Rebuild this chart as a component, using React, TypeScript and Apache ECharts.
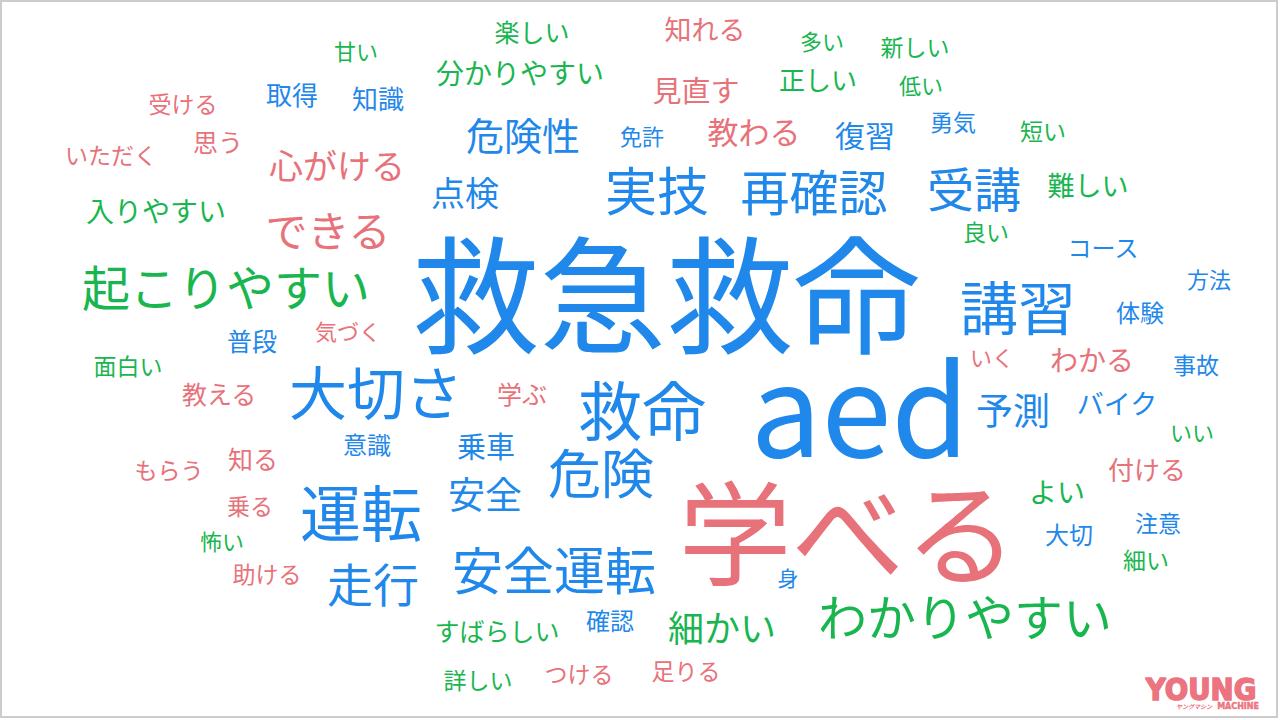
// 受講者コメントのワードクラウド — 単語ごとの位置・大きさを散布図のラベルで再現。
import * as React from "react";
import * as echarts from "echarts";

// [単語, x, y, 重み(=文字サイズ px)]  座標は 1280x720 の値軸上
type Word = [string, number, number, number];

const blueWords: Word[] = [
  ["救急救命", 666, 289, 127],
  ["aed", 860, 402, 126],
  ["救命", 642, 407, 64],
  ["運転", 361, 510, 61],
  ["大切さ", 376, 390, 58],
  ["講習", 1018, 305, 58],
  ["実技", 657, 188, 52],
  ["危険", 601, 471, 53],
  ["安全運転", 554, 568, 51],
  ["再確認", 814, 189, 49],
  ["受講", 974, 186, 47],
  ["走行", 373, 582, 46],
  ["危険性", 523, 133, 38],
  ["予測", 1013, 409, 37],
  ["安全", 485, 493, 37],
  ["点検", 465, 191, 34],
  ["復習", 865, 134, 30],
  ["乗車", 486, 445, 29],
  ["バイク", 1117, 402, 27],
  ["取得", 292, 93, 26],
  ["知識", 378, 97, 26],
  ["普段", 252, 340, 25],
  ["コース", 1103, 246, 24],
  ["意識", 367, 443, 24],
  ["確認", 610, 619, 24],
  ["体験", 1140, 311, 24],
  ["大切", 1069, 533, 24],
  ["勇気", 953, 121, 23],
  ["事故", 1196, 364, 23],
  ["注意", 1158, 522, 23],
  ["免許", 642, 135, 22],
  ["方法", 1209, 278, 22],
  ["身", 788, 577, 21],
];

const redWords: Word[] = [
  ["学べる", 848, 527, 113],
  ["できる", 328, 228, 42],
  ["心がける", 337, 164, 34],
  ["教わる", 754, 130, 31],
  ["見直す", 696, 89, 29],
  ["わかる", 1092, 359, 28],
  ["知れる", 705, 28, 27],
  ["付ける", 1147, 468, 26],
  ["学ぶ", 522, 393, 25],
  ["思う", 218, 141, 25],
  ["教える", 219, 393, 25],
  ["知る", 253, 458, 25],
  ["いただく", 111, 154, 23],
  ["受ける", 183, 103, 23],
  ["もらう", 169, 469, 23],
  ["乗る", 250, 505, 23],
  ["助ける", 267, 573, 23],
  ["つける", 579, 673, 23],
  ["足りる", 686, 670, 23],
  ["気づく", 348, 330, 22],
  ["いく", 992, 356, 22],
];

const greenWords: Word[] = [
  ["わかりやすい", 965, 614, 49],
  ["起こりやすい", 226, 285, 48],
  ["細かい", 722, 626, 36],
  ["入りやすい", 156, 210, 28],
  ["分かりやすい", 520, 72, 28],
  ["よい", 1057, 491, 28],
  ["難しい", 1088, 184, 27],
  ["正しい", 818, 78, 26],
  ["楽しい", 532, 31, 25],
  ["すばらしい", 497, 630, 25],
  ["詳しい", 478, 679, 23],
  ["新しい", 915, 46, 23],
  ["短い", 1043, 130, 23],
  ["良い", 986, 231, 23],
  ["面白い", 128, 365, 23],
  ["細い", 1146, 559, 23],
  ["甘い", 356, 50, 22],
  ["多い", 822, 40, 22],
  ["低い", 921, 84, 22],
  ["怖い", 222, 540, 22],
  ["いい", 1192, 431, 22],
];

const BLUE = "#1f88ea";
const RED = "#e8727a";
const GREEN = "#19b650";
const LOGO = "#ec7480";
const FONT = "'Noto Sans CJK JP', 'Noto Sans', sans-serif";

function wordSeries(words: Word[], color: string) {
  return {
    type: "scatter",
    symbolSize: 0,
    silent: true,
    itemStyle: { opacity: 1 },
    data: words.map(([w, x, y, size]) => ({
      name: w,
      value: [x, y, size],
      // 行高を詰めて単語どうしの枠の重なりを減らす(字形の位置は変わらない)
      label: { fontSize: size, lineHeight: Math.round(size * 0.86) },
    })),
    label: {
      show: true,
      position: "inside",
      formatter: (p: { name: string }) => p.name,
      color,
      opacity: 1,
      fontFamily: FONT,
      fontWeight: "normal",
      align: "center",
      verticalAlign: "middle",
    },
  };
}

export default function App() {
  const ref = React.useRef<HTMLDivElement | null>(null);

  React.useEffect(() => {
    if (!ref.current) return;
    const chart = echarts.init(ref.current, undefined, { renderer: "svg" });
    chart.setOption({
      animation: false,
      backgroundColor: "#ffffff",
      grid: { left: 0, right: 0, top: 0, bottom: 0 },
      xAxis: { type: "value", min: 0, max: 1280, show: false },
      yAxis: { type: "value", min: 0, max: 720, inverse: true, show: false },
      series: [
        wordSeries(blueWords, BLUE),
        wordSeries(redWords, RED),
        wordSeries(greenWords, GREEN),
      ],
      graphic: [
        {
          type: "rect",
          shape: { x: 1, y: 1, width: 1276, height: 716 },
          style: { fill: "none", stroke: "#cccccc", lineWidth: 2 },
          silent: true,
        },
        {
          type: "group",
          silent: true,
          children: [
            {
              type: "text",
              x: 1201,
              y: 690,
              scaleX: 0.92,
              style: {
                text: "YOUNG",
                fill: LOGO,
                stroke: LOGO,
                lineWidth: 1.6,
                fontFamily: "'DejaVu Sans'",
                fontWeight: "bold",
                fontSize: 30,
                align: "center",
                verticalAlign: "middle",
              },
            },
            {
              type: "text",
              x: 1259,
              y: 706,
              style: {
                text: "MACHINE",
                fill: LOGO,
                stroke: LOGO,
                lineWidth: 0.4,
                fontFamily: "'DejaVu Sans'",
                fontWeight: "bold",
                fontSize: 8,
                align: "right",
                verticalAlign: "middle",
              },
            },
            {
              type: "text",
              x: 1212,
              y: 706,
              style: {
                text: "ヤングマシン",
                fill: LOGO,
                fontFamily: FONT,
                fontWeight: "bold",
                fontStyle: "italic",
                fontSize: 6,
                align: "right",
                verticalAlign: "middle",
              },
            },
          ],
        },
      ],
    });
    return () => chart.dispose();
  }, []);

  return (
    <div
      ref={ref}
      style={{ position: "fixed", left: 0, top: 0, width: 1280, height: 720 }}
    />
  );
}
